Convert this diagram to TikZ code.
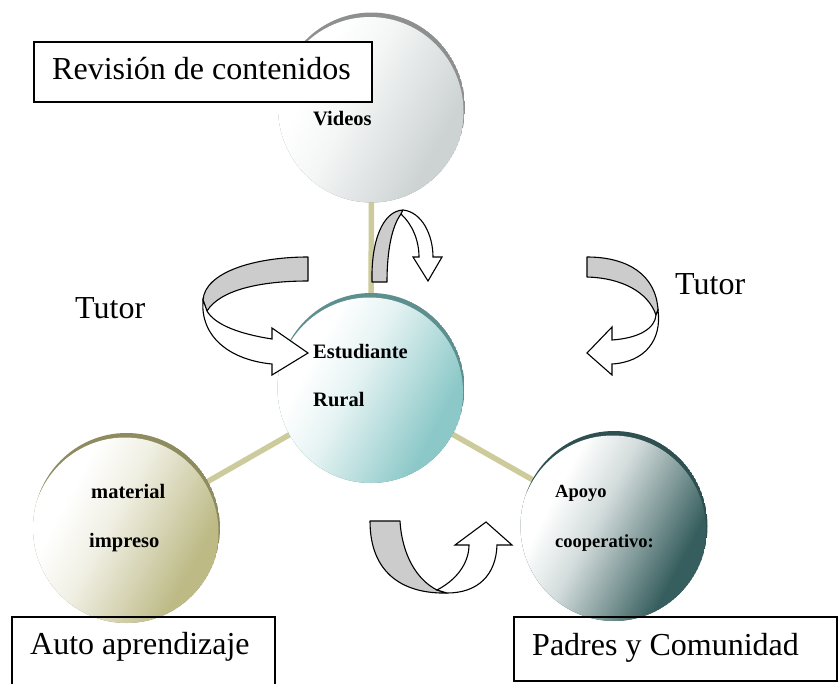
\documentclass[tikz,border=0pt]{standalone}
\usepackage{fontspec}
\setmainfont{Liberation Serif}
\definecolor{khaki}{HTML}{CDCB9B}
\definecolor{bandgray}{HTML}{CCCCCC}
\definecolor{rimV}{HTML}{8E9090}
\definecolor{colV}{HTML}{CDD3D3}
\definecolor{rimE}{HTML}{5E8F8F}
\definecolor{colE}{HTML}{8CC8C8}
\definecolor{rimM}{HTML}{8E8B5E}
\definecolor{colM}{HTML}{BDBA86}
\definecolor{rimA}{HTML}{2E5050}
\definecolor{colA}{HTML}{375E5E}
\newcommand\mkshade[2]{%
  \colorlet{#1a}{#2!62!white}\colorlet{#1b}{#2!22!white}%
  \pgfdeclareverticalshading{#1}{100bp}{color(0bp)=(#2); color(30bp)=(#2); color(42bp)=(#1a); color(55bp)=(#1b); color(68bp)=(white); color(100bp)=(white)}}
\mkshade{shV}{colV}
\mkshade{shE}{colE}
\mkshade{shM}{colM}
\mkshade{shA}{colA}
\newcommand\mysphere[3]{%
  \begin{scope}
    \clip (#1) ellipse [x radius=93.5pt, y radius=95pt];
    \fill[#2] (#1) ellipse [x radius=93.5pt, y radius=95pt];
    \shade[shading=#3, shading angle=62]
      ([shift={(-1.5,4.5)}]#1) ellipse [x radius=93.5pt, y radius=95pt];
  \end{scope}}
\begin{document}
\begin{tikzpicture}[x=1pt,y=-1pt,
  conn/.style={line width=5.5pt, draw=khaki},
  backband/.style={fill=bandgray, draw=black, line width=1.1pt, line join=round},
  frontband/.style={fill=white, draw=black, line width=1.1pt, line join=miter},
  labelbox/.style={draw=black, line width=1.4pt},
  boxtext/.style={anchor=base west, inner sep=0pt, font=\fontsize{32}{38}\selectfont},
  circtext/.style={anchor=base west, inner sep=0pt, font=\bfseries\fontsize{20.5}{24}\selectfont},
  smalltext/.style={anchor=base west, inner sep=0pt, font=\bfseries\fontsize{18.5}{22}\selectfont}]
\useasboundingbox (0,0) rectangle (840,683);
% circle centres
\coordinate (cV) at (371.5,107.5);
\coordinate (cE) at (371,388);
\coordinate (cM) at (126.5,528);
\coordinate (cA) at (614,526);
% connectors
\draw[conn] (cE) -- (cV);
\draw[conn] (cE) -- (cM);
\draw[conn] (cE) -- (cA);
% spheres
\mysphere{cV}{rimV}{shV}
\mysphere{cE}{rimE}{shE}
\mysphere{cM}{rimM}{shM}
\mysphere{cA}{rimA}{shA}
% arrow A (left)
\filldraw[backband] (308,257) .. controls (255,257) and (205,272) .. (203,300)
  -- (207,311) .. controls (220,290) and (260,281) .. (308,281) -- cycle;
\filldraw[frontband] (203,300) .. controls (200,337) and (230,360) .. (272,364)
  -- (272,375) -- (308,353) -- (272,328) -- (272,339)
  .. controls (240,334) and (215,325) .. (207,311) -- cycle;
% arrow B (right)
\filldraw[backband] (587,257) .. controls (628,257) and (656,275) .. (658,310)
  -- (656,315) .. controls (648,292) and (622,278) .. (587,277) -- cycle;
\filldraw[frontband] (658,310) .. controls (662,340) and (645,362) .. (612,364)
  -- (612,375) -- (587,353) -- (612,327) -- (612,340)
  .. controls (640,338) and (655,328) .. (656,315) -- cycle;
% arrow C (top)
\filldraw[backband] (372,282) .. controls (371,240) and (383,211) .. (403,210)
  -- (401,214) .. controls (392,226) and (387,250) .. (387,282) -- cycle;
\filldraw[frontband] (403,210) .. controls (422,212) and (433,235) .. (433,257)
  -- (442,257) -- (428,281) -- (413,257) -- (419,257)
  .. controls (419,240) and (412,224) .. (401,214) -- cycle;
% arrow D (bottom)
\filldraw[backband] (370,521) -- (400,521) .. controls (402,555) and (417,580) .. (437,590)
  -- (447,593) .. controls (405,594) and (370,575) .. (370,521) -- cycle;
\filldraw[frontband] (437,590) .. controls (460,578) and (469,560) .. (469,545)
  -- (455,545) -- (486,522) -- (512,545) -- (497,545)
  .. controls (496,575) and (478,593) .. (447,593) -- cycle;
% boxes
\draw[labelbox, fill=white] (34,42) rectangle (372,102);
\draw[labelbox] (12,617) rectangle (275,690);
\draw[labelbox] (514,617) rectangle (837,681);
% texts
\node[boxtext] (rev) at (52,79) {Revisión de contenidos};
\node[boxtext] (auto) at (30,654) {Auto aprendizaje};
\node[boxtext] (padres) at (532,655) {Padres y Comunidad};
\node[boxtext] (tutorL) at (75,318) {Tutor};
\node[boxtext] (tutorR) at (675,294) {Tutor};
\node[circtext] (videos) at (313,125) {Videos};
\node[circtext] (estud) at (313,358) {Estudiante};
\node[circtext] (rural) at (313,406) {Rural};
\node[circtext] (mat) at (91,498) {material};
\node[circtext] (impr) at (89,547) {impreso};
\node[smalltext] (apoyo) at (555,497) {Apoyo};
\node[smalltext] (coop) at (555,547) {cooperativo:};
\end{tikzpicture}
\end{document}
